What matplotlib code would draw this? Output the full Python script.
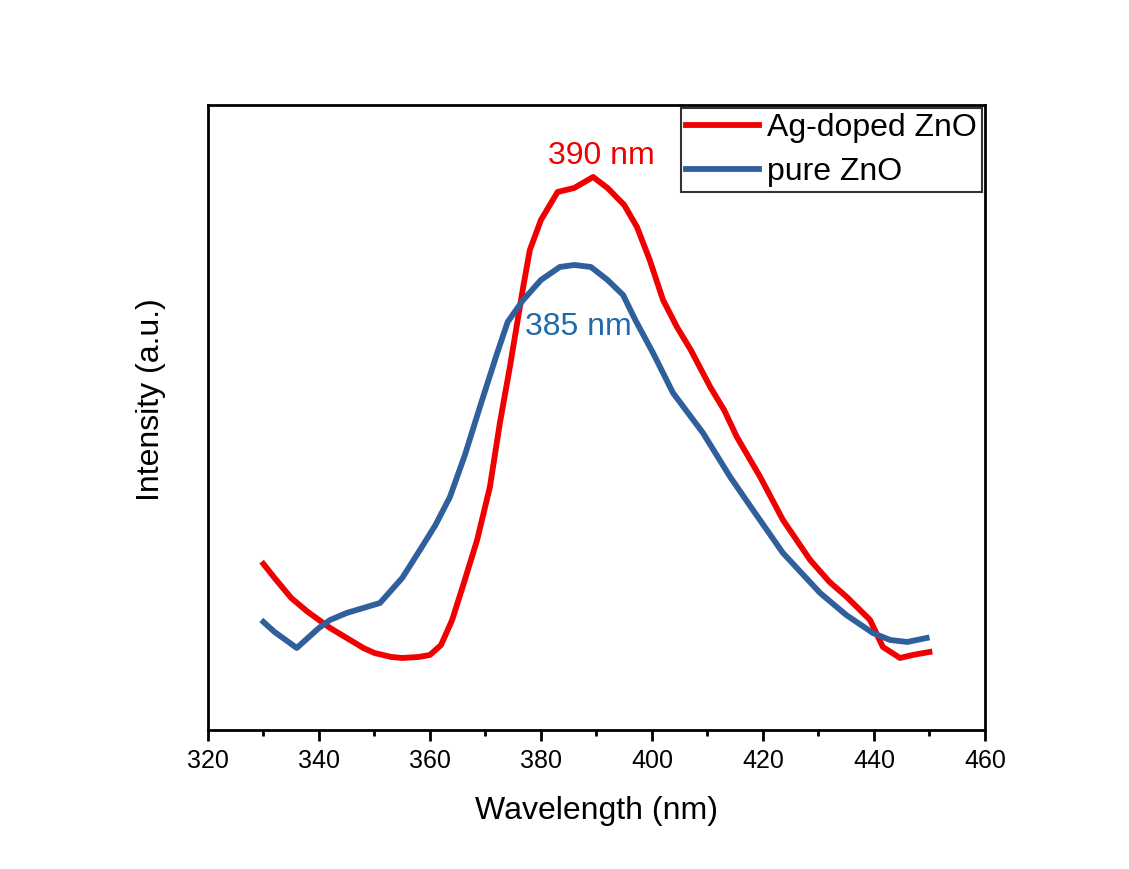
import matplotlib
matplotlib.use("Agg")
import matplotlib.pyplot as plt
import numpy as np
from matplotlib.ticker import MultipleLocator

plt.rcParams['font.family'] = ['Liberation Sans', 'DejaVu Sans']

# Ag-doped ZnO (wavelength nm, intensity a.u.)
ag_wl = [330, 332, 335, 338, 340, 342, 345, 348, 350, 353, 355, 358, 360, 362, 364, 366,
         368.5, 370.8, 372.6, 374.4, 376.8, 378, 380, 383, 386, 389.4, 392, 395, 397.3,
         399.6, 402, 404.5, 407, 410.5, 413, 415.3, 419.5, 423.6, 428.5, 432, 435.1,
         439.3, 441.6, 444.7, 447, 450]
ag_px = [564, 578, 598, 612, 620, 628, 638, 648, 653, 657, 658, 657, 655, 645, 620, 585,
         540, 487, 423, 367, 287, 250, 220, 192, 188, 177, 188, 205, 227,
         260, 300, 327, 350, 387, 410, 437, 477, 520, 560, 582, 597,
         620, 647, 658, 655, 652]

# pure ZnO
zn_wl = [330, 332, 334, 336, 338, 340, 342, 345, 348, 351, 355, 358.2, 361, 363.6, 366.3,
         369, 372, 374, 376.8, 380, 383.4, 386, 389, 392, 394.8, 397, 400.2, 403.8,
         409.2, 414.1, 418.2, 423.6, 430.3, 435, 439.8, 442.9, 446, 449.5]
zn_px = [622, 632, 640, 648, 638, 628, 620, 613, 608, 603, 578, 550, 525, 497, 455,
         407, 355, 322, 300, 280, 267, 265, 267, 280, 295, 320, 353, 393,
         433, 477, 510, 553, 593, 615, 633, 640, 642, 638]

ag_int = [(730 - p) / 6.25 for p in ag_px]
zn_int = [(730 - p) / 6.25 for p in zn_px]

labels = ["Ag-doped ZnO", "pure ZnO"]

fig = plt.figure(figsize=(11.29, 8.69), dpi=100)
ax = fig.add_axes([0.1842, 0.1600, 0.6882, 0.7192])

red = '#F00000'
blue = '#30609C'
ax.plot(ag_wl, ag_int, color=red, lw=4.2, label=labels[0], solid_joinstyle='round')
ax.plot(zn_wl, zn_int, color=blue, lw=4.2, label=labels[1], solid_joinstyle='round')

ax.set_xlim(320, 460)
ax.set_ylim(0, 100)
ax.xaxis.set_major_locator(MultipleLocator(20))
ax.xaxis.set_minor_locator(MultipleLocator(10))
ax.set_yticks([])
ax.tick_params(axis='x', which='major', direction='out', length=8, width=2,
               labelsize=18, pad=6, top=False)
ax.tick_params(axis='x', which='minor', direction='out', length=4.5, width=2, top=False)
for s in ax.spines.values():
    s.set_linewidth(2)

ax.set_xlabel("Wavelength (nm)", fontsize=23, labelpad=16)
ax.set_ylabel("Intensity (a.u.)", fontsize=23)
ax.yaxis.set_label_coords(-0.054, 0.528)

ax.text(390.9, 91.8, "390 nm", color=red, fontsize=23, ha='center', va='center')
ax.text(386.8, 64.5, "385 nm", color='#1F6AA8', fontsize=23, ha='center', va='center')

leg = ax.legend(loc='upper right', fontsize=23, frameon=True, fancybox=False,
                edgecolor='black', handlelength=2.3, handletextpad=0.25,
                labelspacing=0.45, borderaxespad=0.1, borderpad=0.15)
leg.get_frame().set_linewidth(1.5)
for l in leg.get_lines():
    l.set_linewidth(4.2)

fig.savefig("out.png", dpi=100, facecolor='white')
